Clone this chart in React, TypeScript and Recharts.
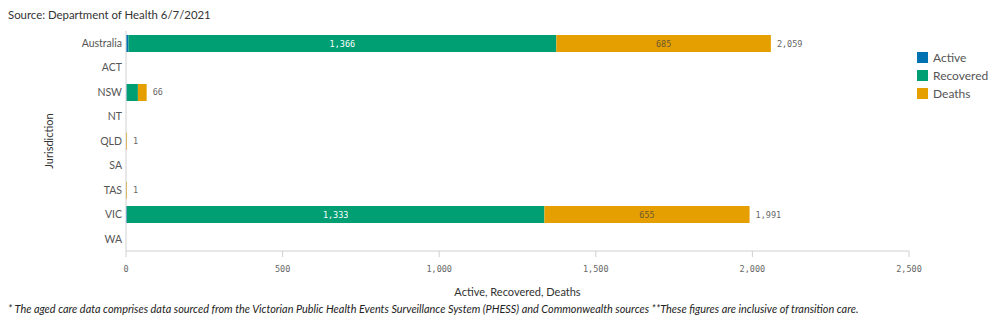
import { BarChart, Bar, XAxis, YAxis, LabelList, Label } from "recharts";

const jurisdictions = ["Australia", "ACT", "NSW", "NT", "QLD", "SA", "TAS", "VIC", "WA"];
const active = [8, 0, 2, 0, 0, 0, 0, 3, 0];
const recovered = [1366, 0, 36, 0, 0, 0, 0, 1333, 0];
const deaths = [685, 0, 28, 0, 1, 0, 1, 655, 0];
const xTicks = [0, 500, 1000, 1500, 2000, 2500];

const series = [
  { key: "active", name: "Active", color: "#0072B2" },
  { key: "recovered", name: "Recovered", color: "#009E73" },
  { key: "deaths", name: "Deaths", color: "#E69F00" },
];

const data = jurisdictions.map((name, i) => ({
  name,
  active: active[i],
  recovered: recovered[i],
  deaths: deaths[i],
  total: active[i] + recovered[i] + deaths[i],
}));

const fmt = (v: number) => v.toLocaleString("en-US");
const mono = "'DejaVu Sans Mono', monospace";
const sans = "Lato, 'Open Sans', sans-serif";

export default function App() {
  return (
    <div
      style={{
        position: "absolute",
        left: 0,
        top: 0,
        width: 1000,
        height: 326,
        background: "#fff",
        fontFamily: sans,
      }}
    >
      <div style={{ position: "absolute", left: 8, top: 8, fontSize: 11.4, color: "#333" }}>
        Source: Department of Health 6/7/2021
      </div>

      <BarChart
        width={1000}
        height={326}
        data={data}
        layout="vertical"
        margin={{ top: 31, right: 91, bottom: 30, left: 40 }}
      >
        <XAxis
          type="number"
          domain={[0, 2500]}
          ticks={xTicks}
          tickFormatter={fmt}
          height={45}
          tickSize={6}
          tickMargin={9}
          stroke="#d0d0d0"
          tick={{ fill: "#666", fontSize: 8.5, fontFamily: mono }}
        >
          <Label
            value="Active, Recovered, Deaths"
            position="insideBottom"
            offset={0}
            style={{ fill: "#333", fontSize: 11, fontFamily: sans }}
          />
        </XAxis>
        <YAxis
          type="category"
          dataKey="name"
          width={86}
          tickLine={false}
          tickSize={0}
          tickMargin={4}
          stroke="#d0d0d0"
          tick={{ fill: "#555", fontSize: 10.5, fontFamily: sans }}
        >
          <Label
            content={({ viewBox }: any) => {
              const cx = viewBox.x + 8;
              const cy = viewBox.y + viewBox.height / 2;
              return (
                <text
                  x={cx}
                  y={cy}
                  transform={`rotate(-90, ${cx}, ${cy})`}
                  textAnchor="middle"
                  dominantBaseline="central"
                  fill="#333"
                  fontSize={11}
                  fontFamily={sans}
                >
                  Jurisdiction
                </text>
              );
            }}
          />
        </YAxis>
        {series.map((s) => (
          <Bar
            key={s.key}
            dataKey={s.key}
            name={s.name}
            stackId="a"
            fill={s.color}
            barSize={17}
            minPointSize={s.key === "deaths" ? (v: any) => (Number(v) > 0 ? 1 : 0) : 0}
            isAnimationActive={false}
          >
            {s.key === "recovered" && (
              <LabelList
                dataKey="recovered"
                position="center"
                formatter={(v: any) => (Number(v) >= 100 ? fmt(Number(v)) : "")}
                style={{ fill: "#fff", fontSize: 8.5, fontFamily: mono }}
              />
            )}
            {s.key === "deaths" && (
              <LabelList
                dataKey="deaths"
                position="center"
                formatter={(v: any) => (Number(v) >= 100 ? fmt(Number(v)) : "")}
                style={{ fill: "#6a5a30", fontSize: 8.5, fontFamily: mono }}
              />
            )}
            {s.key === "deaths" && (
              <LabelList
                dataKey="total"
                position="right"
                offset={6}
                formatter={(v: any) => (Number(v) > 0 ? fmt(Number(v)) : "")}
                style={{ fill: "#666", fontSize: 8.5, fontFamily: mono }}
              />
            )}
          </Bar>
        ))}
      </BarChart>

      <div style={{ position: "absolute", left: 917, top: 48 }}>
        {series.map((s) => (
          <div
            key={s.key}
            style={{ display: "flex", alignItems: "center", height: 18, fontSize: 12, color: "#555" }}
          >
            <span style={{ width: 11, height: 11, background: s.color, marginRight: 5 }} />
            {s.name}
          </div>
        ))}
      </div>

      <div
        style={{
          position: "absolute",
          left: 8,
          top: 302,
          fontSize: 10.9,
          fontStyle: "italic",
          color: "#222",
          whiteSpace: "nowrap",
        }}
      >
        * The aged care data comprises data sourced from the Victorian Public Health Events Surveillance
        System (PHESS) and Commonwealth sources **These figures are inclusive of transition care.
      </div>
    </div>
  );
}
